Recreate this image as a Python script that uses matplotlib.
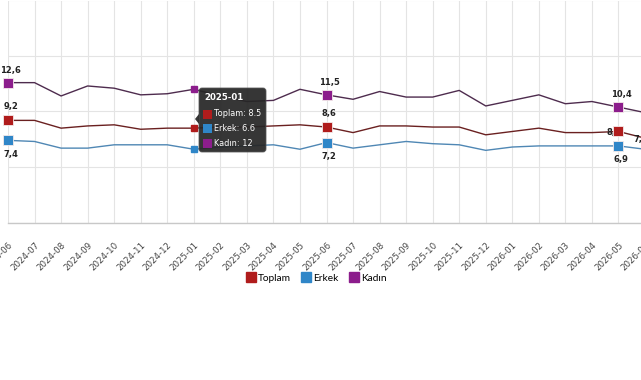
import matplotlib
matplotlib.use("Agg")
import matplotlib.pyplot as plt
import matplotlib.patches as mpatches
import matplotlib.transforms as mtransforms
from matplotlib.lines import Line2D

months = ["2024-06", "2024-07", "2024-08", "2024-09", "2024-10", "2024-11", "2024-12",
          "2025-01", "2025-02", "2025-03", "2025-04", "2025-05", "2025-06", "2025-07",
          "2025-08", "2025-09", "2025-10", "2025-11", "2025-12", "2026-01", "2026-02",
          "2026-03", "2026-04", "2026-05", "2026-06"]
toplam = [9.2, 9.2, 8.5, 8.7, 8.8, 8.4, 8.5, 8.5, 8.6, 8.6, 8.7, 8.8, 8.6, 8.1,
          8.7, 8.7, 8.6, 8.6, 7.9, 8.2, 8.5, 8.1, 8.1, 8.2, 7.6]
erkek = [7.4, 7.3, 6.7, 6.7, 7.0, 7.0, 7.0, 6.6, 6.8, 6.9, 7.0, 6.6, 7.2, 6.7,
         7.0, 7.3, 7.1, 7.0, 6.5, 6.8, 6.9, 6.9, 6.9, 6.9, 6.6]
kadin = [12.6, 12.6, 11.4, 12.3, 12.1, 11.5, 11.6, 12.0, 11.4, 10.9, 11.0, 12.0, 11.5,
         11.1, 11.8, 11.3, 11.3, 11.9, 10.5, 11.0, 11.5, 10.7, 10.9, 10.4, 9.9]
series_names = ["Toplam", "Erkek", "Kadın"]
labeled_idx = [0, 12, 23]
hover_idx = 7

colors = ["#b01c1c", "#2f86c8", "#8c1d8c"]
line_colors = ["#6a2020", "#4f87b4", "#4e2c4e"]

W, H = 641, 380
fig = plt.figure(figsize=(W / 100, H / 100), dpi=100)
ax = fig.add_axes([8 / W, (H - 222.5) / H, 637 / W, 222 / H])
x = list(range(len(months)))

ax.set_xlim(0, len(months) - 1)
ax.set_ylim(0, 20)
ax.set_yticks([0, 5, 10, 15, 20])
ax.set_xticks(x)
ax.set_xticklabels(months, rotation=45, ha="right", va="top", rotation_mode="anchor",
                   fontsize=6.2, color="#444444")
ax.tick_params(axis="x", length=0, pad=13)
ax.tick_params(axis="y", length=0, labelleft=False)
ax.grid(True, color="#e4e4e4", linewidth=0.8)
ax.set_axisbelow(True)
for s in ["top", "right", "left"]:
    ax.spines[s].set_visible(False)
ax.spines["bottom"].set_color("#c8c8c8")
ax.spines["bottom"].set_linewidth(1.0)

data = [toplam, erkek, kadin]
for vals, c, lc in zip(data, colors, line_colors):
    ax.plot(x, vals, color=lc, linewidth=1.0, zorder=3, clip_on=False)
    ax.plot([x[i] for i in labeled_idx], [vals[i] for i in labeled_idx], ls="none",
            marker="s", markersize=7.8, color=c, markeredgecolor="#f4eaea",
            markeredgewidth=0.6, zorder=5, clip_on=False)
    ax.plot([x[hover_idx]], [vals[hover_idx]], ls="none", marker="s", markersize=4.3,
            color=c, zorder=5)

def fmt(v):
    return f"{v:.1f}".replace(".", ",")

lab_kw = dict(fontsize=6, color="#222222", fontweight="bold", ha="center", zorder=4,
              annotation_clip=False)
for i in labeled_idx:
    ax.annotate(fmt(kadin[i]), (x[i], kadin[i]), xytext=(2, 9), textcoords="offset points",
                va="center", **lab_kw)
    ax.annotate(fmt(erkek[i]), (x[i], erkek[i]), xytext=(2, -10), textcoords="offset points",
                va="center", **lab_kw)
for i in [0, 12]:
    ax.annotate(fmt(toplam[i]), (x[i], toplam[i]), xytext=(2, 10), textcoords="offset points",
                va="center", **lab_kw)
for i in [23, 24]:
    ax.annotate(fmt(toplam[i]), (x[i], toplam[i]), xytext=(-3, -1), textcoords="offset points",
                va="center", **lab_kw)

# tooltip (display pixel coordinates, origin bottom-left)
idt = mtransforms.IdentityTransform()
bx0, by_top, bw, bh = 199, 88, 67, 64
box = mpatches.FancyBboxPatch((bx0, H - by_top - bh), bw, bh,
                              boxstyle="round,pad=0,rounding_size=3",
                              transform=idt, facecolor="#262626", edgecolor="#555555",
                              linewidth=0.6, alpha=0.93, zorder=10)
fig.patches.append(box)
tri = mpatches.Polygon([(bx0, H - 114), (bx0 - 4, H - 119), (bx0, H - 124)], closed=True,
                       transform=idt, facecolor="#262626", edgecolor="none", alpha=0.93,
                       zorder=10)
fig.patches.append(tri)
fig.text(bx0 + 5, H - 98, months[hover_idx], transform=idt, color="white", fontsize=6.2,
         fontweight="bold", va="center", ha="left", zorder=11)
for k, (name, vals, c) in enumerate(zip(series_names, data, colors)):
    yy = H - (114 + 14.5 * k)
    sq = mpatches.Rectangle((bx0 + 4, yy - 4.5), 9, 9, transform=idt, facecolor=c,
                            edgecolor="none", zorder=11)
    fig.patches.append(sq)
    v = vals[hover_idx]
    vs = f"{v:g}"
    fig.text(bx0 + 14.5, yy, f"{name}: {vs}", transform=idt, color="white", fontsize=5.9,
             va="center", ha="left", zorder=11)

handles = [Line2D([], [], ls="none", marker="s", markersize=7.5, color=c) for c in colors]
fig.legend(handles, series_names, loc="center", bbox_to_anchor=(316 / W, (H - 278) / H),
           ncol=3, frameon=False, handletextpad=0.2, columnspacing=1.0,
           handlelength=1.0, prop={"family": "Lato", "size": 7.3})

fig.savefig("out.png", dpi=100)
